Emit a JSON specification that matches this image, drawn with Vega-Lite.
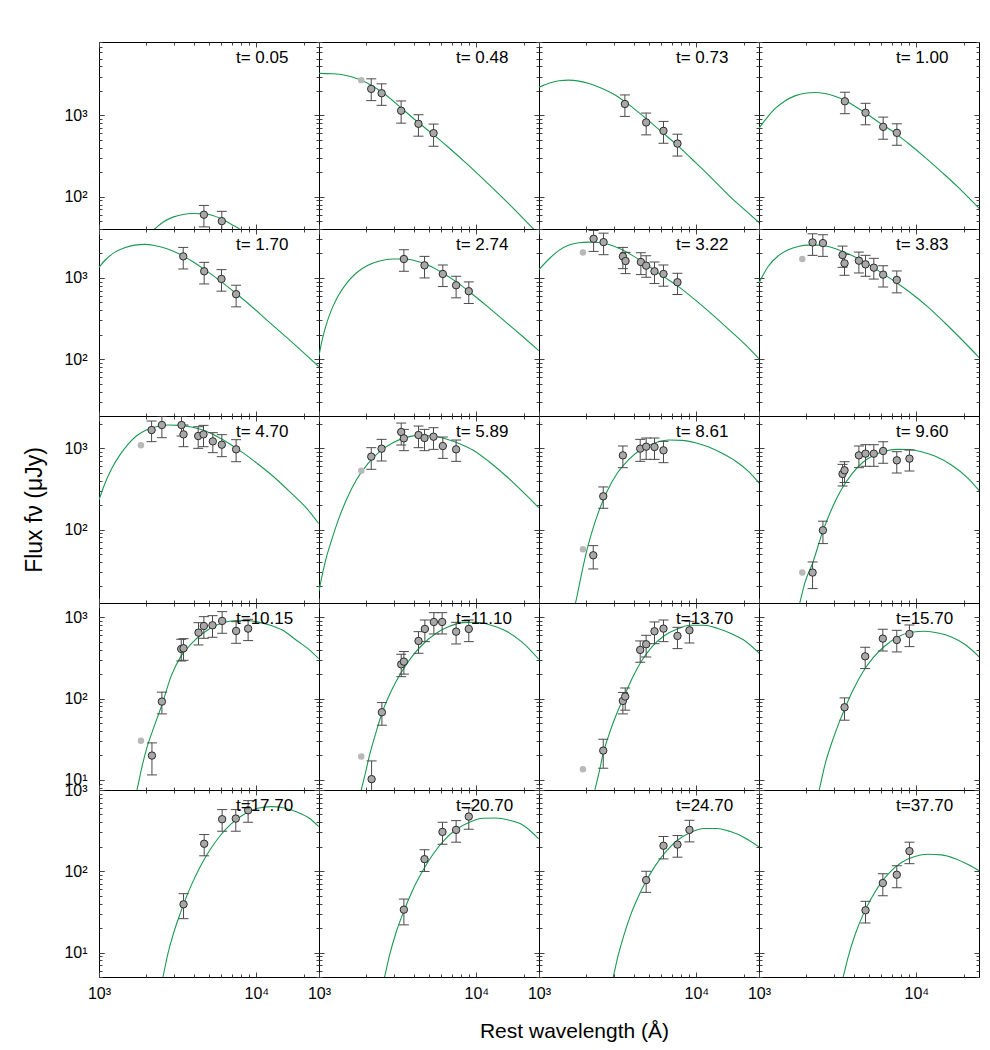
{
"$schema":"https://vega.github.io/schema/vega-lite/v6.json",
"background":"white",
"padding":{"left":23,"top":41,"right":5,"bottom":5},
"datasets":{
"c":[
{"p":1,"w":2095,"f":35.8},{"p":1,"w":2254,"f":40.1},{"p":1,"w":2547,"f":48.5},{"p":1,"w":2951,"f":56},{"p":1,"w":3415,"f":60.4},{"p":1,"w":3948,"f":62.1},{"p":1,"w":4570,"f":61.5},{"p":1,"w":5286,"f":58.7},{"p":1,"w":6118,"f":52.4},{"p":1,"w":6917,"f":45.8},{"p":1,"w":7813,"f":40.1},{"p":1,"w":8395,"f":35.8},
{"p":2,"w":1000,"f":3285},{"p":2,"w":1227,"f":3253},{"p":2,"w":1491,"f":3102},{"p":2,"w":1811,"f":2768},{"p":2,"w":2201,"f":2288},{"p":2,"w":2674,"f":1770},{"p":2,"w":3330,"f":1233},{"p":2,"w":4147,"f":859},{"p":2,"w":5288,"f":587},{"p":2,"w":6747,"f":394},{"p":2,"w":8606,"f":259},{"p":2,"w":10980,"f":167},{"p":2,"w":14007,"f":106},{"p":2,"w":17871,"f":66.4},{"p":2,"w":22800,"f":40.9},{"p":2,"w":25135,"f":33.8},
{"p":3,"w":1000,"f":2224},{"p":3,"w":1157,"f":2493},{"p":3,"w":1340,"f":2665},{"p":3,"w":1550,"f":2716},{"p":3,"w":1794,"f":2640},{"p":3,"w":2077,"f":2470},{"p":3,"w":2523,"f":2141},{"p":3,"w":3065,"f":1770},{"p":3,"w":3725,"f":1356},{"p":3,"w":4752,"f":927},{"p":3,"w":6061,"f":621},{"p":3,"w":7733,"f":413},{"p":3,"w":9865,"f":264},{"p":3,"w":12584,"f":167},{"p":3,"w":16055,"f":104},{"p":3,"w":20480,"f":67.7},{"p":3,"w":25130,"f":47.6},
{"p":4,"w":1000,"f":697},{"p":4,"w":1119,"f":927},{"p":4,"w":1263,"f":1210},{"p":4,"w":1462,"f":1507},{"p":4,"w":1692,"f":1738},{"p":4,"w":1958,"f":1876},{"p":4,"w":2266,"f":1911},{"p":4,"w":2623,"f":1857},{"p":4,"w":3035,"f":1722},{"p":4,"w":3513,"f":1536},{"p":4,"w":4166,"f":1257},{"p":4,"w":4940,"f":1019},{"p":4,"w":6002,"f":781},{"p":4,"w":7294,"f":610},{"p":4,"w":8862,"f":454},{"p":4,"w":11305,"f":307},{"p":4,"w":14422,"f":202},{"p":4,"w":18398,"f":131},{"p":4,"w":25380,"f":69.7},
{"p":5,"w":1000,"f":1351},{"p":5,"w":1113,"f":1709},{"p":5,"w":1257,"f":2062},{"p":5,"w":1455,"f":2352},{"p":5,"w":1684,"f":2536},{"p":5,"w":1949,"f":2584},{"p":5,"w":2255,"f":2512},{"p":5,"w":2674,"f":2308},{"p":5,"w":3250,"f":1968},{"p":5,"w":3948,"f":1585},{"p":5,"w":4797,"f":1229},{"p":5,"w":5973,"f":902},{"p":5,"w":7435,"f":643},{"p":5,"w":9489,"f":433},{"p":5,"w":12104,"f":284},{"p":5,"w":15443,"f":188},{"p":5,"w":19698,"f":123},{"p":5,"w":24890,"f":81.3},
{"p":6,"w":1000,"f":110},{"p":6,"w":1050,"f":176},{"p":6,"w":1113,"f":268},{"p":6,"w":1198,"f":402},{"p":6,"w":1320,"f":596},{"p":6,"w":1491,"f":852},{"p":6,"w":1726,"f":1151},{"p":6,"w":2046,"f":1429},{"p":6,"w":2426,"f":1615},{"p":6,"w":2948,"f":1709},{"p":6,"w":3496,"f":1709},{"p":6,"w":4147,"f":1615},{"p":6,"w":5039,"f":1416},{"p":6,"w":6120,"f":1151},{"p":6,"w":7621,"f":868},{"p":6,"w":9489,"f":625},{"p":6,"w":12104,"f":425},{"p":6,"w":15443,"f":284},{"p":6,"w":19698,"f":190},{"p":6,"w":24890,"f":128},
{"p":7,"w":1000,"f":1265},{"p":7,"w":1157,"f":1709},{"p":7,"w":1340,"f":2182},{"p":7,"w":1550,"f":2536},{"p":7,"w":1794,"f":2708},{"p":7,"w":2077,"f":2759},{"p":7,"w":2403,"f":2734},{"p":7,"w":2781,"f":2584},{"p":7,"w":3379,"f":2223},{"p":7,"w":4107,"f":1791},{"p":7,"w":4989,"f":1390},{"p":7,"w":6061,"f":1068},{"p":7,"w":7733,"f":776},{"p":7,"w":9865,"f":533},{"p":7,"w":12584,"f":356},{"p":7,"w":16055,"f":233},{"p":7,"w":20480,"f":151},{"p":7,"w":25130,"f":100},
{"p":8,"w":1000,"f":868},{"p":8,"w":1146,"f":1390},{"p":8,"w":1327,"f":1877},{"p":8,"w":1535,"f":2223},{"p":8,"w":1776,"f":2442},{"p":8,"w":2056,"f":2536},{"p":8,"w":2380,"f":2536},{"p":8,"w":2754,"f":2442},{"p":8,"w":3187,"f":2223},{"p":8,"w":3873,"f":1895},{"p":8,"w":4706,"f":1555},{"p":8,"w":5717,"f":1229},{"p":8,"w":7294,"f":902},{"p":8,"w":9305,"f":643},{"p":8,"w":11870,"f":437},{"p":8,"w":15140,"f":281},{"p":8,"w":19320,"f":176},{"p":8,"w":25380,"f":102},
{"p":9,"w":1000,"f":232},{"p":9,"w":1086,"f":361},{"p":9,"w":1198,"f":552},{"p":9,"w":1352,"f":820},{"p":9,"w":1528,"f":1120},{"p":9,"w":1726,"f":1418},{"p":9,"w":1997,"f":1680},{"p":9,"w":2311,"f":1847},{"p":9,"w":2741,"f":1936},{"p":9,"w":3250,"f":1918},{"p":9,"w":3854,"f":1829},{"p":9,"w":4570,"f":1680},{"p":9,"w":5554,"f":1418},{"p":9,"w":6747,"f":1141},{"p":9,"w":8199,"f":885},{"p":9,"w":9961,"f":666},{"p":9,"w":12707,"f":457},{"p":9,"w":16214,"f":296},{"p":9,"w":20685,"f":186},{"p":9,"w":24890,"f":119},
{"p":10,"w":1000,"f":17.6},{"p":10,"w":1050,"f":28.2},{"p":10,"w":1113,"f":45.3},{"p":10,"w":1198,"f":72.6},{"p":10,"w":1320,"f":128},{"p":10,"w":1491,"f":232},{"p":10,"w":1726,"f":408},{"p":10,"w":2046,"f":648},{"p":10,"w":2426,"f":910},{"p":10,"w":2948,"f":1174},{"p":10,"w":3582,"f":1365},{"p":10,"w":4352,"f":1445},{"p":10,"w":5288,"f":1418},{"p":10,"w":6427,"f":1303},{"p":10,"w":7809,"f":1141},{"p":10,"w":9489,"f":954},{"p":10,"w":12104,"f":679},{"p":10,"w":15443,"f":457},{"p":10,"w":19698,"f":293},{"p":10,"w":24890,"f":186},
{"p":11,"w":1668,"f":10.5},{"p":11,"w":1709,"f":12.7},{"p":11,"w":1838,"f":25},{"p":11,"w":1997,"f":52.1},{"p":11,"w":2180,"f":96.3},{"p":11,"w":2403,"f":170},{"p":11,"w":2714,"f":299},{"p":11,"w":3141,"f":493},{"p":11,"w":3725,"f":733},{"p":11,"w":4526,"f":991},{"p":11,"w":5500,"f":1174},{"p":11,"w":6682,"f":1266},{"p":11,"w":8121,"f":1254},{"p":11,"w":9865,"f":1174},{"p":11,"w":11990,"f":1038},{"p":11,"w":14567,"f":868},{"p":11,"w":17700,"f":699},{"p":11,"w":21510,"f":517},{"p":11,"w":25130,"f":371},
{"p":12,"w":1776,"f":10.5},{"p":12,"w":1820,"f":12.7},{"p":12,"w":1958,"f":22.3},{"p":12,"w":2190,"f":38.6},{"p":12,"w":2548,"f":96.3},{"p":12,"w":2892,"f":178},{"p":12,"w":3345,"f":313},{"p":12,"w":3873,"f":479},{"p":12,"w":4592,"f":679},{"p":12,"w":5445,"f":836},{"p":12,"w":6458,"f":936},{"p":12,"w":7657,"f":972},{"p":12,"w":9082,"f":963},{"p":12,"w":10768,"f":910},{"p":12,"w":13086,"f":805},{"p":12,"w":16692,"f":624},{"p":12,"w":21294,"f":428},{"p":12,"w":25380,"f":293},
{"p":13,"w":1684,"f":6.24},{"p":13,"w":1742,"f":7.53},{"p":13,"w":1856,"f":13.3},{"p":13,"w":1997,"f":23.4},{"p":13,"w":2201,"f":41.2},{"p":13,"w":2510,"f":83.6},{"p":13,"w":2877,"f":190},{"p":13,"w":3330,"f":335},{"p":13,"w":3854,"f":470},{"p":13,"w":4570,"f":636},{"p":13,"w":5554,"f":797},{"p":13,"w":6747,"f":893},{"p":13,"w":8199,"f":919},{"p":13,"w":9961,"f":885},{"p":13,"w":12104,"f":805},{"p":13,"w":14709,"f":692},{"p":13,"w":17871,"f":526},{"p":13,"w":21716,"f":397},{"p":13,"w":24890,"f":310},
{"p":14,"w":1811,"f":6.24},{"p":14,"w":1856,"f":7.53},{"p":14,"w":1949,"f":11},{"p":14,"w":2097,"f":20.3},{"p":14,"w":2311,"f":39.3},{"p":14,"w":2510,"f":66},{"p":14,"w":2877,"f":124},{"p":14,"w":3330,"f":209},{"p":14,"w":3854,"f":319},{"p":14,"w":4570,"f":466},{"p":14,"w":5554,"f":636},{"p":14,"w":6747,"f":775},{"p":14,"w":8199,"f":860},{"p":14,"w":9961,"f":868},{"p":14,"w":12104,"f":812},{"p":14,"w":15443,"f":679},{"p":14,"w":19698,"f":488},{"p":14,"w":24890,"f":305},
{"p":15,"w":2212,"f":6.24},{"p":15,"w":2266,"f":7.53},{"p":15,"w":2403,"f":12.1},{"p":15,"w":2560,"f":21.3},{"p":15,"w":2781,"f":35.8},{"p":15,"w":3065,"f":60.1},{"p":15,"w":3412,"f":98.1},{"p":15,"w":3911,"f":178},{"p":15,"w":4526,"f":299},{"p":15,"w":5237,"f":436},{"p":15,"w":6213,"f":590},{"p":15,"w":7547,"f":719},{"p":15,"w":9170,"f":797},{"p":15,"w":11140,"f":797},{"p":15,"w":13540,"f":733},{"p":15,"w":16450,"f":636},{"p":15,"w":19990,"f":526},{"p":15,"w":25130,"f":361},
{"p":16,"w":2357,"f":6.24},{"p":16,"w":2415,"f":7.53},{"p":16,"w":2623,"f":15.3},{"p":16,"w":2892,"f":28.2},{"p":16,"w":3187,"f":47.5},{"p":16,"w":3496,"f":73.9},{"p":16,"w":3968,"f":128},{"p":16,"w":4592,"f":215},{"p":16,"w":5314,"f":319},{"p":16,"w":6303,"f":444},{"p":16,"w":7657,"f":578},{"p":16,"w":9305,"f":654},{"p":16,"w":11305,"f":673},{"p":16,"w":13740,"f":642},{"p":16,"w":16692,"f":573},{"p":16,"w":20280,"f":466},{"p":16,"w":25380,"f":319},
{"p":17,"w":2486,"f":4.17},{"p":17,"w":2548,"f":5.03},{"p":17,"w":2741,"f":9.72},{"p":17,"w":2948,"f":16.3},{"p":17,"w":3250,"f":28.7},{"p":17,"w":3445,"f":39.2},{"p":17,"w":3854,"f":67},{"p":17,"w":4352,"f":110},{"p":17,"w":5039,"f":180},{"p":17,"w":5831,"f":268},{"p":17,"w":6914,"f":383},{"p":17,"w":8402,"f":508},{"p":17,"w":10207,"f":596},{"p":17,"w":12402,"f":624},{"p":17,"w":15073,"f":601},{"p":17,"w":18312,"f":532},{"p":17,"w":21716,"f":449},{"p":17,"w":24890,"f":355},
{"p":18,"w":2548,"f":4.17},{"p":18,"w":2610,"f":5.03},{"p":18,"w":2808,"f":9.27},{"p":18,"w":3095,"f":17.9},{"p":18,"w":3462,"f":32.4},{"p":18,"w":3948,"f":59.3},{"p":18,"w":4570,"f":102},{"p":18,"w":5288,"f":161},{"p":18,"w":6273,"f":244},{"p":18,"w":7435,"f":326},{"p":18,"w":9036,"f":401},{"p":18,"w":10980,"f":449},{"p":18,"w":13343,"f":453},{"p":18,"w":16214,"f":424},{"p":18,"w":19698,"f":372},{"p":18,"w":24890,"f":251},
{"p":19,"w":2892,"f":4.17},{"p":19,"w":2963,"f":5.03},{"p":19,"w":3187,"f":9.27},{"p":19,"w":3462,"f":16.3},{"p":19,"w":3815,"f":28.7},{"p":19,"w":4268,"f":48.2},{"p":19,"w":4797,"f":75.7},{"p":19,"w":5500,"f":118},{"p":19,"w":6364,"f":172},{"p":19,"w":7547,"f":239},{"p":19,"w":9170,"f":300},{"p":19,"w":11140,"f":336},{"p":19,"w":13540,"f":336},{"p":19,"w":16450,"f":308},{"p":19,"w":19990,"f":263},{"p":19,"w":25130,"f":198},
{"p":20,"w":3345,"f":4.17},{"p":20,"w":3429,"f":5.03},{"p":20,"w":3688,"f":8.85},{"p":20,"w":4066,"f":16.3},{"p":20,"w":4592,"f":29.5},{"p":20,"w":5186,"f":46.9},{"p":20,"w":6002,"f":73.6},{"p":20,"w":6947,"f":102},{"p":20,"w":8039,"f":128},{"p":20,"w":9767,"f":152},{"p":20,"w":11870,"f":162},{"p":20,"w":14422,"f":159},{"p":20,"w":17528,"f":144},{"p":20,"w":21294,"f":121},{"p":20,"w":25380,"f":100}
],
"d":[
{"p":1,"w":4640,"f":60,"lo":42.5,"hi":78},{"p":1,"w":6030,"f":50,"lo":38,"hi":66},
{"p":2,"w":2147,"f":2120,"lo":1520,"hi":2818},{"p":2,"w":2500,"f":1874,"lo":1330,"hi":2446},{"p":2,"w":3326,"f":1142,"lo":803,"hi":1506},{"p":2,"w":4285,"f":788,"lo":555,"hi":1019},{"p":2,"w":5346,"f":604,"lo":417,"hi":782},
{"p":3,"w":3513,"f":1382,"lo":972,"hi":1786},{"p":3,"w":4797,"f":819,"lo":576,"hi":1069},{"p":3,"w":6180,"f":645,"lo":454,"hi":843},{"p":3,"w":7583,"f":450,"lo":316,"hi":587},
{"p":4,"w":3513,"f":1492,"lo":1049,"hi":1928},{"p":4,"w":4752,"f":1079,"lo":766,"hi":1409},{"p":4,"w":6152,"f":723,"lo":509,"hi":953},{"p":4,"w":7515,"f":610,"lo":429,"hi":788},
{"p":5,"w":3429,"f":1842,"lo":1289,"hi":2374},{"p":5,"w":4660,"f":1207,"lo":844,"hi":1556},{"p":5,"w":6002,"f":972,"lo":687,"hi":1265},{"p":5,"w":7435,"f":631,"lo":441,"hi":813},
{"p":6,"w":3462,"f":1709,"lo":1207,"hi":2224},{"p":6,"w":4683,"f":1429,"lo":1000,"hi":1842},{"p":6,"w":6120,"f":1119,"lo":783,"hi":1443},{"p":6,"w":7435,"f":813,"lo":569,"hi":1048},{"p":6,"w":8950,"f":687,"lo":485,"hi":894},
{"p":7,"w":2223,"f":3031,"lo":2121,"hi":3837},{"p":7,"w":2572,"f":2759,"lo":1931,"hi":3557},{"p":7,"w":3412,"f":1842,"lo":1301,"hi":2374},{"p":7,"w":3547,"f":1615,"lo":1130,"hi":2062},{"p":7,"w":4439,"f":1570,"lo":1099,"hi":2042},{"p":7,"w":4797,"f":1416,"lo":1019,"hi":1875},{"p":7,"w":5419,"f":1207,"lo":853,"hi":1570},{"p":7,"w":6180,"f":1119,"lo":791,"hi":1443},{"p":7,"w":7583,"f":885,"lo":625,"hi":1141},
{"p":8,"w":2190,"f":2734,"lo":1895,"hi":3491},{"p":8,"w":2548,"f":2683,"lo":1842,"hi":3398},{"p":8,"w":3395,"f":1913,"lo":1351,"hi":2466},{"p":8,"w":3496,"f":1512,"lo":1078,"hi":1950},{"p":8,"w":4312,"f":1630,"lo":1151,"hi":2080},{"p":8,"w":4752,"f":1470,"lo":1048,"hi":1897},{"p":8,"w":5365,"f":1338,"lo":968,"hi":1742},{"p":8,"w":6150,"f":1098,"lo":776,"hi":1416},{"p":8,"w":7509,"f":945,"lo":655,"hi":1218},
{"p":9,"w":2159,"f":1680,"lo":1208,"hi":2168},{"p":9,"w":2510,"f":1936,"lo":1352,"hi":2498},{"p":9,"w":3345,"f":1936,"lo":1418,"hi":2498},{"p":9,"w":3445,"f":1486,"lo":1048,"hi":1936},{"p":9,"w":4268,"f":1418,"lo":1000,"hi":1846},{"p":9,"w":4614,"f":1486,"lo":1048,"hi":1918},{"p":9,"w":5288,"f":1219,"lo":885,"hi":1559},{"p":9,"w":6032,"f":1109,"lo":790,"hi":1473},{"p":9,"w":7435,"f":972,"lo":685,"hi":1278},
{"p":10,"w":2148,"f":790,"lo":552,"hi":1019},{"p":10,"w":2498,"f":991,"lo":699,"hi":1290},{"p":10,"w":3330,"f":1588,"lo":1099,"hi":2047},{"p":10,"w":3462,"f":1327,"lo":936,"hi":1712},{"p":10,"w":4289,"f":1459,"lo":1019,"hi":1882},{"p":10,"w":4683,"f":1340,"lo":936,"hi":1712},{"p":10,"w":5340,"f":1391,"lo":972,"hi":1795},{"p":10,"w":6120,"f":1068,"lo":753,"hi":1378},{"p":10,"w":7435,"f":972,"lo":692,"hi":1266},
{"p":11,"w":2212,"f":48.3,"lo":32.8,"hi":63.5},{"p":11,"w":2560,"f":257,"lo":183,"hi":335},{"p":11,"w":3412,"f":820,"lo":578,"hi":1069},{"p":11,"w":4397,"f":991,"lo":692,"hi":1290},{"p":11,"w":4797,"f":1048,"lo":732,"hi":1340},{"p":11,"w":5419,"f":1038,"lo":732,"hi":1340},{"p":11,"w":6180,"f":945,"lo":666,"hi":1219},
{"p":12,"w":2190,"f":29.6,"lo":18.8,"hi":40},{"p":12,"w":2548,"f":98.1,"lo":67.3,"hi":127},{"p":12,"w":3395,"f":484,"lo":344,"hi":635},{"p":12,"w":3496,"f":537,"lo":380,"hi":685},{"p":12,"w":4312,"f":820,"lo":578,"hi":1069},{"p":12,"w":4752,"f":860,"lo":601,"hi":1109},{"p":12,"w":5365,"f":860,"lo":601,"hi":1109},{"p":12,"w":6150,"f":927,"lo":654,"hi":1207},{"p":12,"w":7509,"f":712,"lo":497,"hi":910},{"p":12,"w":9036,"f":747,"lo":526,"hi":954},
{"p":13,"w":2170,"f":19.9,"lo":11.5,"hi":28.5},{"p":13,"w":2510,"f":91.8,"lo":64.8,"hi":120},{"p":13,"w":3330,"f":408,"lo":290,"hi":536},{"p":13,"w":3445,"f":416,"lo":296,"hi":546},{"p":13,"w":4289,"f":648,"lo":457,"hi":859},{"p":13,"w":4638,"f":782,"lo":552,"hi":1019},{"p":13,"w":5263,"f":797,"lo":568,"hi":1048},{"p":13,"w":6061,"f":902,"lo":636,"hi":1174},{"p":13,"w":7435,"f":679,"lo":479,"hi":885},{"p":13,"w":8862,"f":726,"lo":517,"hi":945},
{"p":14,"w":2159,"f":10.2,"lo":6.2,"hi":17.1},{"p":14,"w":2510,"f":67.9,"lo":47,"hi":89.3},{"p":14,"w":3330,"f":264,"lo":186,"hi":351},{"p":14,"w":3462,"f":285,"lo":200,"hi":379},{"p":14,"w":4289,"f":512,"lo":361,"hi":666},{"p":14,"w":4707,"f":719,"lo":502,"hi":927},{"p":14,"w":5368,"f":876,"lo":624,"hi":1141},{"p":14,"w":6061,"f":876,"lo":624,"hi":1141},{"p":14,"w":7435,"f":666,"lo":470,"hi":868},{"p":14,"w":8950,"f":719,"lo":502,"hi":927},
{"p":15,"w":2560,"f":22.9,"lo":13.9,"hi":31.6},{"p":15,"w":3412,"f":93.6,"lo":64.8,"hi":119},{"p":15,"w":3530,"f":106,"lo":72,"hi":135},{"p":15,"w":4397,"f":397,"lo":280,"hi":512},{"p":15,"w":4797,"f":466,"lo":325,"hi":601},{"p":15,"w":5419,"f":673,"lo":474,"hi":877},{"p":15,"w":6180,"f":726,"lo":502,"hi":927},{"p":15,"w":7583,"f":590,"lo":412,"hi":753},{"p":15,"w":9036,"f":692,"lo":483,"hi":893},
{"p":16,"w":3496,"f":78.2,"lo":54.2,"hi":102},{"p":16,"w":4729,"f":331,"lo":234,"hi":428},{"p":16,"w":6120,"f":547,"lo":385,"hi":712},{"p":16,"w":7509,"f":526,"lo":375,"hi":692},{"p":16,"w":9036,"f":624,"lo":436,"hi":805},
{"p":17,"w":3445,"f":39.2,"lo":26.1,"hi":53},{"p":17,"w":4660,"f":218,"lo":155,"hi":283},{"p":17,"w":6061,"f":437,"lo":311,"hi":574},{"p":17,"w":7400,"f":445,"lo":311,"hi":574},{"p":17,"w":8862,"f":563,"lo":401,"hi":740},
{"p":18,"w":3462,"f":33.7,"lo":21.9,"hi":45.5},{"p":18,"w":4683,"f":141,"lo":99.5,"hi":184},{"p":18,"w":6091,"f":305,"lo":215,"hi":401},{"p":18,"w":7435,"f":323,"lo":228,"hi":420},{"p":18,"w":8950,"f":471,"lo":329,"hi":601},
{"p":19,"w":4797,"f":77.9,"lo":55,"hi":100},{"p":19,"w":6180,"f":206,"lo":142,"hi":268},{"p":19,"w":7583,"f":213,"lo":149,"hi":275},{"p":19,"w":9036,"f":323,"lo":230,"hi":424},
{"p":20,"w":4752,"f":33.1,"lo":23.1,"hi":42.7},{"p":20,"w":6120,"f":71.6,"lo":50.1,"hi":93.2},{"p":20,"w":7509,"f":90.6,"lo":62.7,"hi":117},{"p":20,"w":9036,"f":177,"lo":124,"hi":228}
],
"g":[
{"p":2,"w":1856,"f":2716},{"p":7,"w":1902,"f":2062},{"p":8,"w":1884,"f":1709},{"p":9,"w":1847,"f":1089},{"p":10,"w":1856,"f":531},{"p":11,"w":1902,"f":57.3},{"p":12,"w":1884,"f":29.6},{"p":13,"w":1847,"f":30.2},{"p":14,"w":1856,"f":19.4},{"p":15,"w":1902,"f":13.5}
]
},
"columns":4,
"spacing":0,
"bounds":"flush",
"concat":[
{"title":"t= 0.05","encoding":{"x":{"field":"w","type":"quantitative","scale":{"type":"log","domain":[1000,25000]},"axis":null},"y":{"field":"f","type":"quantitative","scale":{"type":"log","domain":[40,8000]},"axis":null}},"layer":[
{"data":{"name":"c"},"transform":[{"filter":"datum.p==1"}],"mark":{"type":"line","clip":true,"interpolate":"monotone","color":"#1a9a50","strokeWidth":1.1},"encoding":{"x":{"field":"w","type":"quantitative","scale":{"type":"log","domain":[1000,25000]},"axis":{"orient":"bottom","title":null}},"y":{"field":"f","type":"quantitative","scale":{"type":"log","domain":[40,8000]},"axis":{"orient":"left","title":null,"values":[1,10,100,1000,10000],"labels":true,"labelExpr":"'10'+['⁰','¹','²','³','⁴','⁵'][round(log(datum.value)/LN10)]"}}}},
{"data":{"name":"d"},"transform":[{"filter":"datum.p==1"}],"mark":{"type":"rule","clip":true,"color":"#4a4a4a"},"encoding":{"x":{"field":"w","type":"quantitative","scale":{"type":"log","domain":[1000,25000]},"axis":{"orient":"top","title":null}},"y":{"field":"lo","type":"quantitative","scale":{"type":"log","domain":[40,8000]},"axis":{"orient":"right","title":null}},"y2":{"field":"hi"}}},
{"data":{"name":"d"},"transform":[{"filter":"datum.p==1"},{"fold":["lo","hi"],"as":["k","v"]}],"mark":{"type":"tick","clip":true,"color":"#4a4a4a","orient":"horizontal","size":10,"thickness":1},"encoding":{"y":{"field":"v","type":"quantitative","scale":{"type":"log","domain":[40,8000]},"axis":{"orient":"left","title":null}}}},
{"data":{"name":"g"},"transform":[{"filter":"datum.p==1"}],"mark":{"type":"circle","clip":true,"color":"#b8b8b8","size":42}},
{"data":{"name":"d"},"transform":[{"filter":"datum.p==1"}],"mark":{"type":"circle","clip":true,"color":"#a8a8a8","stroke":"#2a2a2a","strokeWidth":1,"size":55}}
]},
{"title":"t= 0.48","encoding":{"x":{"field":"w","type":"quantitative","scale":{"type":"log","domain":[1000,25000]},"axis":null},"y":{"field":"f","type":"quantitative","scale":{"type":"log","domain":[40,8000]},"axis":null}},"layer":[
{"data":{"name":"c"},"transform":[{"filter":"datum.p==2"}],"mark":{"type":"line","clip":true,"interpolate":"monotone","color":"#1a9a50","strokeWidth":1.1},"encoding":{"x":{"field":"w","type":"quantitative","scale":{"type":"log","domain":[1000,25000]},"axis":{"orient":"bottom","title":null}},"y":{"field":"f","type":"quantitative","scale":{"type":"log","domain":[40,8000]},"axis":{"orient":"left","title":null}}}},
{"data":{"name":"d"},"transform":[{"filter":"datum.p==2"}],"mark":{"type":"rule","clip":true,"color":"#4a4a4a"},"encoding":{"x":{"field":"w","type":"quantitative","scale":{"type":"log","domain":[1000,25000]},"axis":{"orient":"top","title":null}},"y":{"field":"lo","type":"quantitative","scale":{"type":"log","domain":[40,8000]},"axis":{"orient":"right","title":null}},"y2":{"field":"hi"}}},
{"data":{"name":"d"},"transform":[{"filter":"datum.p==2"},{"fold":["lo","hi"],"as":["k","v"]}],"mark":{"type":"tick","clip":true,"color":"#4a4a4a","orient":"horizontal","size":10,"thickness":1},"encoding":{"y":{"field":"v","type":"quantitative","scale":{"type":"log","domain":[40,8000]},"axis":null}}},
{"data":{"name":"g"},"transform":[{"filter":"datum.p==2"}],"mark":{"type":"circle","clip":true,"color":"#b8b8b8","size":42}},
{"data":{"name":"d"},"transform":[{"filter":"datum.p==2"}],"mark":{"type":"circle","clip":true,"color":"#a8a8a8","stroke":"#2a2a2a","strokeWidth":1,"size":55}}
]},
{"title":"t= 0.73","encoding":{"x":{"field":"w","type":"quantitative","scale":{"type":"log","domain":[1000,25000]},"axis":null},"y":{"field":"f","type":"quantitative","scale":{"type":"log","domain":[40,8000]},"axis":null}},"layer":[
{"data":{"name":"c"},"transform":[{"filter":"datum.p==3"}],"mark":{"type":"line","clip":true,"interpolate":"monotone","color":"#1a9a50","strokeWidth":1.1},"encoding":{"x":{"field":"w","type":"quantitative","scale":{"type":"log","domain":[1000,25000]},"axis":{"orient":"bottom","title":null}},"y":{"field":"f","type":"quantitative","scale":{"type":"log","domain":[40,8000]},"axis":{"orient":"left","title":null}}}},
{"data":{"name":"d"},"transform":[{"filter":"datum.p==3"}],"mark":{"type":"rule","clip":true,"color":"#4a4a4a"},"encoding":{"x":{"field":"w","type":"quantitative","scale":{"type":"log","domain":[1000,25000]},"axis":{"orient":"top","title":null}},"y":{"field":"lo","type":"quantitative","scale":{"type":"log","domain":[40,8000]},"axis":{"orient":"right","title":null}},"y2":{"field":"hi"}}},
{"data":{"name":"d"},"transform":[{"filter":"datum.p==3"},{"fold":["lo","hi"],"as":["k","v"]}],"mark":{"type":"tick","clip":true,"color":"#4a4a4a","orient":"horizontal","size":10,"thickness":1},"encoding":{"y":{"field":"v","type":"quantitative","scale":{"type":"log","domain":[40,8000]},"axis":null}}},
{"data":{"name":"g"},"transform":[{"filter":"datum.p==3"}],"mark":{"type":"circle","clip":true,"color":"#b8b8b8","size":42}},
{"data":{"name":"d"},"transform":[{"filter":"datum.p==3"}],"mark":{"type":"circle","clip":true,"color":"#a8a8a8","stroke":"#2a2a2a","strokeWidth":1,"size":55}}
]},
{"title":"t= 1.00","encoding":{"x":{"field":"w","type":"quantitative","scale":{"type":"log","domain":[1000,25000]},"axis":null},"y":{"field":"f","type":"quantitative","scale":{"type":"log","domain":[40,8000]},"axis":null}},"layer":[
{"data":{"name":"c"},"transform":[{"filter":"datum.p==4"}],"mark":{"type":"line","clip":true,"interpolate":"monotone","color":"#1a9a50","strokeWidth":1.1},"encoding":{"x":{"field":"w","type":"quantitative","scale":{"type":"log","domain":[1000,25000]},"axis":{"orient":"bottom","title":null}},"y":{"field":"f","type":"quantitative","scale":{"type":"log","domain":[40,8000]},"axis":{"orient":"left","title":null}}}},
{"data":{"name":"d"},"transform":[{"filter":"datum.p==4"}],"mark":{"type":"rule","clip":true,"color":"#4a4a4a"},"encoding":{"x":{"field":"w","type":"quantitative","scale":{"type":"log","domain":[1000,25000]},"axis":{"orient":"top","title":null}},"y":{"field":"lo","type":"quantitative","scale":{"type":"log","domain":[40,8000]},"axis":{"orient":"right","title":null}},"y2":{"field":"hi"}}},
{"data":{"name":"d"},"transform":[{"filter":"datum.p==4"},{"fold":["lo","hi"],"as":["k","v"]}],"mark":{"type":"tick","clip":true,"color":"#4a4a4a","orient":"horizontal","size":10,"thickness":1},"encoding":{"y":{"field":"v","type":"quantitative","scale":{"type":"log","domain":[40,8000]},"axis":null}}},
{"data":{"name":"g"},"transform":[{"filter":"datum.p==4"}],"mark":{"type":"circle","clip":true,"color":"#b8b8b8","size":42}},
{"data":{"name":"d"},"transform":[{"filter":"datum.p==4"}],"mark":{"type":"circle","clip":true,"color":"#a8a8a8","stroke":"#2a2a2a","strokeWidth":1,"size":55}}
]},
{"title":"t= 1.70","encoding":{"x":{"field":"w","type":"quantitative","scale":{"type":"log","domain":[1000,25000]},"axis":null},"y":{"field":"f","type":"quantitative","scale":{"type":"log","domain":[20,4000]},"axis":null}},"layer":[
{"data":{"name":"c"},"transform":[{"filter":"datum.p==5"}],"mark":{"type":"line","clip":true,"interpolate":"monotone","color":"#1a9a50","strokeWidth":1.1},"encoding":{"x":{"field":"w","type":"quantitative","scale":{"type":"log","domain":[1000,25000]},"axis":{"orient":"bottom","title":null}},"y":{"field":"f","type":"quantitative","scale":{"type":"log","domain":[20,4000]},"axis":{"orient":"left","title":null,"values":[1,10,100,1000,10000],"labels":true,"labelExpr":"'10'+['⁰','¹','²','³','⁴','⁵'][round(log(datum.value)/LN10)]"}}}},
{"data":{"name":"d"},"transform":[{"filter":"datum.p==5"}],"mark":{"type":"rule","clip":true,"color":"#4a4a4a"},"encoding":{"x":{"field":"w","type":"quantitative","scale":{"type":"log","domain":[1000,25000]},"axis":{"orient":"top","title":null}},"y":{"field":"lo","type":"quantitative","scale":{"type":"log","domain":[20,4000]},"axis":{"orient":"right","title":null}},"y2":{"field":"hi"}}},
{"data":{"name":"d"},"transform":[{"filter":"datum.p==5"},{"fold":["lo","hi"],"as":["k","v"]}],"mark":{"type":"tick","clip":true,"color":"#4a4a4a","orient":"horizontal","size":10,"thickness":1},"encoding":{"y":{"field":"v","type":"quantitative","scale":{"type":"log","domain":[20,4000]},"axis":{"orient":"left","title":null}}}},
{"data":{"name":"g"},"transform":[{"filter":"datum.p==5"}],"mark":{"type":"circle","clip":true,"color":"#b8b8b8","size":42}},
{"data":{"name":"d"},"transform":[{"filter":"datum.p==5"}],"mark":{"type":"circle","clip":true,"color":"#a8a8a8","stroke":"#2a2a2a","strokeWidth":1,"size":55}}
]},
{"title":"t= 2.74","encoding":{"x":{"field":"w","type":"quantitative","scale":{"type":"log","domain":[1000,25000]},"axis":null},"y":{"field":"f","type":"quantitative","scale":{"type":"log","domain":[20,4000]},"axis":null}},"layer":[
{"data":{"name":"c"},"transform":[{"filter":"datum.p==6"}],"mark":{"type":"line","clip":true,"interpolate":"monotone","color":"#1a9a50","strokeWidth":1.1},"encoding":{"x":{"field":"w","type":"quantitative","scale":{"type":"log","domain":[1000,25000]},"axis":{"orient":"bottom","title":null}},"y":{"field":"f","type":"quantitative","scale":{"type":"log","domain":[20,4000]},"axis":{"orient":"left","title":null}}}},
{"data":{"name":"d"},"transform":[{"filter":"datum.p==6"}],"mark":{"type":"rule","clip":true,"color":"#4a4a4a"},"encoding":{"x":{"field":"w","type":"quantitative","scale":{"type":"log","domain":[1000,25000]},"axis":{"orient":"top","title":null}},"y":{"field":"lo","type":"quantitative","scale":{"type":"log","domain":[20,4000]},"axis":{"orient":"right","title":null}},"y2":{"field":"hi"}}},
{"data":{"name":"d"},"transform":[{"filter":"datum.p==6"},{"fold":["lo","hi"],"as":["k","v"]}],"mark":{"type":"tick","clip":true,"color":"#4a4a4a","orient":"horizontal","size":10,"thickness":1},"encoding":{"y":{"field":"v","type":"quantitative","scale":{"type":"log","domain":[20,4000]},"axis":null}}},
{"data":{"name":"g"},"transform":[{"filter":"datum.p==6"}],"mark":{"type":"circle","clip":true,"color":"#b8b8b8","size":42}},
{"data":{"name":"d"},"transform":[{"filter":"datum.p==6"}],"mark":{"type":"circle","clip":true,"color":"#a8a8a8","stroke":"#2a2a2a","strokeWidth":1,"size":55}}
]},
{"title":"t= 3.22","encoding":{"x":{"field":"w","type":"quantitative","scale":{"type":"log","domain":[1000,25000]},"axis":null},"y":{"field":"f","type":"quantitative","scale":{"type":"log","domain":[20,4000]},"axis":null}},"layer":[
{"data":{"name":"c"},"transform":[{"filter":"datum.p==7"}],"mark":{"type":"line","clip":true,"interpolate":"monotone","color":"#1a9a50","strokeWidth":1.1},"encoding":{"x":{"field":"w","type":"quantitative","scale":{"type":"log","domain":[1000,25000]},"axis":{"orient":"bottom","title":null}},"y":{"field":"f","type":"quantitative","scale":{"type":"log","domain":[20,4000]},"axis":{"orient":"left","title":null}}}},
{"data":{"name":"d"},"transform":[{"filter":"datum.p==7"}],"mark":{"type":"rule","clip":true,"color":"#4a4a4a"},"encoding":{"x":{"field":"w","type":"quantitative","scale":{"type":"log","domain":[1000,25000]},"axis":{"orient":"top","title":null}},"y":{"field":"lo","type":"quantitative","scale":{"type":"log","domain":[20,4000]},"axis":{"orient":"right","title":null}},"y2":{"field":"hi"}}},
{"data":{"name":"d"},"transform":[{"filter":"datum.p==7"},{"fold":["lo","hi"],"as":["k","v"]}],"mark":{"type":"tick","clip":true,"color":"#4a4a4a","orient":"horizontal","size":10,"thickness":1},"encoding":{"y":{"field":"v","type":"quantitative","scale":{"type":"log","domain":[20,4000]},"axis":null}}},
{"data":{"name":"g"},"transform":[{"filter":"datum.p==7"}],"mark":{"type":"circle","clip":true,"color":"#b8b8b8","size":42}},
{"data":{"name":"d"},"transform":[{"filter":"datum.p==7"}],"mark":{"type":"circle","clip":true,"color":"#a8a8a8","stroke":"#2a2a2a","strokeWidth":1,"size":55}}
]},
{"title":"t= 3.83","encoding":{"x":{"field":"w","type":"quantitative","scale":{"type":"log","domain":[1000,25000]},"axis":null},"y":{"field":"f","type":"quantitative","scale":{"type":"log","domain":[20,4000]},"axis":null}},"layer":[
{"data":{"name":"c"},"transform":[{"filter":"datum.p==8"}],"mark":{"type":"line","clip":true,"interpolate":"monotone","color":"#1a9a50","strokeWidth":1.1},"encoding":{"x":{"field":"w","type":"quantitative","scale":{"type":"log","domain":[1000,25000]},"axis":{"orient":"bottom","title":null}},"y":{"field":"f","type":"quantitative","scale":{"type":"log","domain":[20,4000]},"axis":{"orient":"left","title":null}}}},
{"data":{"name":"d"},"transform":[{"filter":"datum.p==8"}],"mark":{"type":"rule","clip":true,"color":"#4a4a4a"},"encoding":{"x":{"field":"w","type":"quantitative","scale":{"type":"log","domain":[1000,25000]},"axis":{"orient":"top","title":null}},"y":{"field":"lo","type":"quantitative","scale":{"type":"log","domain":[20,4000]},"axis":{"orient":"right","title":null}},"y2":{"field":"hi"}}},
{"data":{"name":"d"},"transform":[{"filter":"datum.p==8"},{"fold":["lo","hi"],"as":["k","v"]}],"mark":{"type":"tick","clip":true,"color":"#4a4a4a","orient":"horizontal","size":10,"thickness":1},"encoding":{"y":{"field":"v","type":"quantitative","scale":{"type":"log","domain":[20,4000]},"axis":null}}},
{"data":{"name":"g"},"transform":[{"filter":"datum.p==8"}],"mark":{"type":"circle","clip":true,"color":"#b8b8b8","size":42}},
{"data":{"name":"d"},"transform":[{"filter":"datum.p==8"}],"mark":{"type":"circle","clip":true,"color":"#a8a8a8","stroke":"#2a2a2a","strokeWidth":1,"size":55}}
]},
{"title":"t= 4.70","encoding":{"x":{"field":"w","type":"quantitative","scale":{"type":"log","domain":[1000,25000]},"axis":null},"y":{"field":"f","type":"quantitative","scale":{"type":"log","domain":[12.5,2500]},"axis":null}},"layer":[
{"data":{"name":"c"},"transform":[{"filter":"datum.p==9"}],"mark":{"type":"line","clip":true,"interpolate":"monotone","color":"#1a9a50","strokeWidth":1.1},"encoding":{"x":{"field":"w","type":"quantitative","scale":{"type":"log","domain":[1000,25000]},"axis":{"orient":"bottom","title":null}},"y":{"field":"f","type":"quantitative","scale":{"type":"log","domain":[12.5,2500]},"axis":{"orient":"left","title":"Flux fν (μJy)","titlePadding":17,"titleFontSize":23,"values":[1,10,100,1000,10000],"labels":true,"labelExpr":"'10'+['⁰','¹','²','³','⁴','⁵'][round(log(datum.value)/LN10)]"}}}},
{"data":{"name":"d"},"transform":[{"filter":"datum.p==9"}],"mark":{"type":"rule","clip":true,"color":"#4a4a4a"},"encoding":{"x":{"field":"w","type":"quantitative","scale":{"type":"log","domain":[1000,25000]},"axis":{"orient":"top","title":null}},"y":{"field":"lo","type":"quantitative","scale":{"type":"log","domain":[12.5,2500]},"axis":{"orient":"right","title":null}},"y2":{"field":"hi"}}},
{"data":{"name":"d"},"transform":[{"filter":"datum.p==9"},{"fold":["lo","hi"],"as":["k","v"]}],"mark":{"type":"tick","clip":true,"color":"#4a4a4a","orient":"horizontal","size":10,"thickness":1},"encoding":{"y":{"field":"v","type":"quantitative","scale":{"type":"log","domain":[12.5,2500]},"axis":{"orient":"left","title":null}}}},
{"data":{"name":"g"},"transform":[{"filter":"datum.p==9"}],"mark":{"type":"circle","clip":true,"color":"#b8b8b8","size":42}},
{"data":{"name":"d"},"transform":[{"filter":"datum.p==9"}],"mark":{"type":"circle","clip":true,"color":"#a8a8a8","stroke":"#2a2a2a","strokeWidth":1,"size":55}}
]},
{"title":"t= 5.89","encoding":{"x":{"field":"w","type":"quantitative","scale":{"type":"log","domain":[1000,25000]},"axis":null},"y":{"field":"f","type":"quantitative","scale":{"type":"log","domain":[12.5,2500]},"axis":null}},"layer":[
{"data":{"name":"c"},"transform":[{"filter":"datum.p==10"}],"mark":{"type":"line","clip":true,"interpolate":"monotone","color":"#1a9a50","strokeWidth":1.1},"encoding":{"x":{"field":"w","type":"quantitative","scale":{"type":"log","domain":[1000,25000]},"axis":{"orient":"bottom","title":null}},"y":{"field":"f","type":"quantitative","scale":{"type":"log","domain":[12.5,2500]},"axis":{"orient":"left","title":null}}}},
{"data":{"name":"d"},"transform":[{"filter":"datum.p==10"}],"mark":{"type":"rule","clip":true,"color":"#4a4a4a"},"encoding":{"x":{"field":"w","type":"quantitative","scale":{"type":"log","domain":[1000,25000]},"axis":{"orient":"top","title":null}},"y":{"field":"lo","type":"quantitative","scale":{"type":"log","domain":[12.5,2500]},"axis":{"orient":"right","title":null}},"y2":{"field":"hi"}}},
{"data":{"name":"d"},"transform":[{"filter":"datum.p==10"},{"fold":["lo","hi"],"as":["k","v"]}],"mark":{"type":"tick","clip":true,"color":"#4a4a4a","orient":"horizontal","size":10,"thickness":1},"encoding":{"y":{"field":"v","type":"quantitative","scale":{"type":"log","domain":[12.5,2500]},"axis":null}}},
{"data":{"name":"g"},"transform":[{"filter":"datum.p==10"}],"mark":{"type":"circle","clip":true,"color":"#b8b8b8","size":42}},
{"data":{"name":"d"},"transform":[{"filter":"datum.p==10"}],"mark":{"type":"circle","clip":true,"color":"#a8a8a8","stroke":"#2a2a2a","strokeWidth":1,"size":55}}
]},
{"title":"t= 8.61","encoding":{"x":{"field":"w","type":"quantitative","scale":{"type":"log","domain":[1000,25000]},"axis":null},"y":{"field":"f","type":"quantitative","scale":{"type":"log","domain":[12.5,2500]},"axis":null}},"layer":[
{"data":{"name":"c"},"transform":[{"filter":"datum.p==11"}],"mark":{"type":"line","clip":true,"interpolate":"monotone","color":"#1a9a50","strokeWidth":1.1},"encoding":{"x":{"field":"w","type":"quantitative","scale":{"type":"log","domain":[1000,25000]},"axis":{"orient":"bottom","title":null}},"y":{"field":"f","type":"quantitative","scale":{"type":"log","domain":[12.5,2500]},"axis":{"orient":"left","title":null}}}},
{"data":{"name":"d"},"transform":[{"filter":"datum.p==11"}],"mark":{"type":"rule","clip":true,"color":"#4a4a4a"},"encoding":{"x":{"field":"w","type":"quantitative","scale":{"type":"log","domain":[1000,25000]},"axis":{"orient":"top","title":null}},"y":{"field":"lo","type":"quantitative","scale":{"type":"log","domain":[12.5,2500]},"axis":{"orient":"right","title":null}},"y2":{"field":"hi"}}},
{"data":{"name":"d"},"transform":[{"filter":"datum.p==11"},{"fold":["lo","hi"],"as":["k","v"]}],"mark":{"type":"tick","clip":true,"color":"#4a4a4a","orient":"horizontal","size":10,"thickness":1},"encoding":{"y":{"field":"v","type":"quantitative","scale":{"type":"log","domain":[12.5,2500]},"axis":null}}},
{"data":{"name":"g"},"transform":[{"filter":"datum.p==11"}],"mark":{"type":"circle","clip":true,"color":"#b8b8b8","size":42}},
{"data":{"name":"d"},"transform":[{"filter":"datum.p==11"}],"mark":{"type":"circle","clip":true,"color":"#a8a8a8","stroke":"#2a2a2a","strokeWidth":1,"size":55}}
]},
{"title":"t= 9.60","encoding":{"x":{"field":"w","type":"quantitative","scale":{"type":"log","domain":[1000,25000]},"axis":null},"y":{"field":"f","type":"quantitative","scale":{"type":"log","domain":[12.5,2500]},"axis":null}},"layer":[
{"data":{"name":"c"},"transform":[{"filter":"datum.p==12"}],"mark":{"type":"line","clip":true,"interpolate":"monotone","color":"#1a9a50","strokeWidth":1.1},"encoding":{"x":{"field":"w","type":"quantitative","scale":{"type":"log","domain":[1000,25000]},"axis":{"orient":"bottom","title":null}},"y":{"field":"f","type":"quantitative","scale":{"type":"log","domain":[12.5,2500]},"axis":{"orient":"left","title":null}}}},
{"data":{"name":"d"},"transform":[{"filter":"datum.p==12"}],"mark":{"type":"rule","clip":true,"color":"#4a4a4a"},"encoding":{"x":{"field":"w","type":"quantitative","scale":{"type":"log","domain":[1000,25000]},"axis":{"orient":"top","title":null}},"y":{"field":"lo","type":"quantitative","scale":{"type":"log","domain":[12.5,2500]},"axis":{"orient":"right","title":null}},"y2":{"field":"hi"}}},
{"data":{"name":"d"},"transform":[{"filter":"datum.p==12"},{"fold":["lo","hi"],"as":["k","v"]}],"mark":{"type":"tick","clip":true,"color":"#4a4a4a","orient":"horizontal","size":10,"thickness":1},"encoding":{"y":{"field":"v","type":"quantitative","scale":{"type":"log","domain":[12.5,2500]},"axis":null}}},
{"data":{"name":"g"},"transform":[{"filter":"datum.p==12"}],"mark":{"type":"circle","clip":true,"color":"#b8b8b8","size":42}},
{"data":{"name":"d"},"transform":[{"filter":"datum.p==12"}],"mark":{"type":"circle","clip":true,"color":"#a8a8a8","stroke":"#2a2a2a","strokeWidth":1,"size":55}}
]},
{"title":"t=10.15","encoding":{"x":{"field":"w","type":"quantitative","scale":{"type":"log","domain":[1000,25000]},"axis":null},"y":{"field":"f","type":"quantitative","scale":{"type":"log","domain":[7.5,1500]},"axis":null}},"layer":[
{"data":{"name":"c"},"transform":[{"filter":"datum.p==13"}],"mark":{"type":"line","clip":true,"interpolate":"monotone","color":"#1a9a50","strokeWidth":1.1},"encoding":{"x":{"field":"w","type":"quantitative","scale":{"type":"log","domain":[1000,25000]},"axis":{"orient":"bottom","title":null}},"y":{"field":"f","type":"quantitative","scale":{"type":"log","domain":[7.5,1500]},"axis":{"orient":"left","title":null,"values":[1,10,100,1000,10000],"labels":true,"labelExpr":"'10'+['⁰','¹','²','³','⁴','⁵'][round(log(datum.value)/LN10)]"}}}},
{"data":{"name":"d"},"transform":[{"filter":"datum.p==13"}],"mark":{"type":"rule","clip":true,"color":"#4a4a4a"},"encoding":{"x":{"field":"w","type":"quantitative","scale":{"type":"log","domain":[1000,25000]},"axis":{"orient":"top","title":null}},"y":{"field":"lo","type":"quantitative","scale":{"type":"log","domain":[7.5,1500]},"axis":{"orient":"right","title":null}},"y2":{"field":"hi"}}},
{"data":{"name":"d"},"transform":[{"filter":"datum.p==13"},{"fold":["lo","hi"],"as":["k","v"]}],"mark":{"type":"tick","clip":true,"color":"#4a4a4a","orient":"horizontal","size":10,"thickness":1},"encoding":{"y":{"field":"v","type":"quantitative","scale":{"type":"log","domain":[7.5,1500]},"axis":{"orient":"left","title":null}}}},
{"data":{"name":"g"},"transform":[{"filter":"datum.p==13"}],"mark":{"type":"circle","clip":true,"color":"#b8b8b8","size":42}},
{"data":{"name":"d"},"transform":[{"filter":"datum.p==13"}],"mark":{"type":"circle","clip":true,"color":"#a8a8a8","stroke":"#2a2a2a","strokeWidth":1,"size":55}}
]},
{"title":"t=11.10","encoding":{"x":{"field":"w","type":"quantitative","scale":{"type":"log","domain":[1000,25000]},"axis":null},"y":{"field":"f","type":"quantitative","scale":{"type":"log","domain":[7.5,1500]},"axis":null}},"layer":[
{"data":{"name":"c"},"transform":[{"filter":"datum.p==14"}],"mark":{"type":"line","clip":true,"interpolate":"monotone","color":"#1a9a50","strokeWidth":1.1},"encoding":{"x":{"field":"w","type":"quantitative","scale":{"type":"log","domain":[1000,25000]},"axis":{"orient":"bottom","title":null}},"y":{"field":"f","type":"quantitative","scale":{"type":"log","domain":[7.5,1500]},"axis":{"orient":"left","title":null}}}},
{"data":{"name":"d"},"transform":[{"filter":"datum.p==14"}],"mark":{"type":"rule","clip":true,"color":"#4a4a4a"},"encoding":{"x":{"field":"w","type":"quantitative","scale":{"type":"log","domain":[1000,25000]},"axis":{"orient":"top","title":null}},"y":{"field":"lo","type":"quantitative","scale":{"type":"log","domain":[7.5,1500]},"axis":{"orient":"right","title":null}},"y2":{"field":"hi"}}},
{"data":{"name":"d"},"transform":[{"filter":"datum.p==14"},{"fold":["lo","hi"],"as":["k","v"]}],"mark":{"type":"tick","clip":true,"color":"#4a4a4a","orient":"horizontal","size":10,"thickness":1},"encoding":{"y":{"field":"v","type":"quantitative","scale":{"type":"log","domain":[7.5,1500]},"axis":null}}},
{"data":{"name":"g"},"transform":[{"filter":"datum.p==14"}],"mark":{"type":"circle","clip":true,"color":"#b8b8b8","size":42}},
{"data":{"name":"d"},"transform":[{"filter":"datum.p==14"}],"mark":{"type":"circle","clip":true,"color":"#a8a8a8","stroke":"#2a2a2a","strokeWidth":1,"size":55}}
]},
{"title":"t=13.70","encoding":{"x":{"field":"w","type":"quantitative","scale":{"type":"log","domain":[1000,25000]},"axis":null},"y":{"field":"f","type":"quantitative","scale":{"type":"log","domain":[7.5,1500]},"axis":null}},"layer":[
{"data":{"name":"c"},"transform":[{"filter":"datum.p==15"}],"mark":{"type":"line","clip":true,"interpolate":"monotone","color":"#1a9a50","strokeWidth":1.1},"encoding":{"x":{"field":"w","type":"quantitative","scale":{"type":"log","domain":[1000,25000]},"axis":{"orient":"bottom","title":null}},"y":{"field":"f","type":"quantitative","scale":{"type":"log","domain":[7.5,1500]},"axis":{"orient":"left","title":null}}}},
{"data":{"name":"d"},"transform":[{"filter":"datum.p==15"}],"mark":{"type":"rule","clip":true,"color":"#4a4a4a"},"encoding":{"x":{"field":"w","type":"quantitative","scale":{"type":"log","domain":[1000,25000]},"axis":{"orient":"top","title":null}},"y":{"field":"lo","type":"quantitative","scale":{"type":"log","domain":[7.5,1500]},"axis":{"orient":"right","title":null}},"y2":{"field":"hi"}}},
{"data":{"name":"d"},"transform":[{"filter":"datum.p==15"},{"fold":["lo","hi"],"as":["k","v"]}],"mark":{"type":"tick","clip":true,"color":"#4a4a4a","orient":"horizontal","size":10,"thickness":1},"encoding":{"y":{"field":"v","type":"quantitative","scale":{"type":"log","domain":[7.5,1500]},"axis":null}}},
{"data":{"name":"g"},"transform":[{"filter":"datum.p==15"}],"mark":{"type":"circle","clip":true,"color":"#b8b8b8","size":42}},
{"data":{"name":"d"},"transform":[{"filter":"datum.p==15"}],"mark":{"type":"circle","clip":true,"color":"#a8a8a8","stroke":"#2a2a2a","strokeWidth":1,"size":55}}
]},
{"title":"t=15.70","encoding":{"x":{"field":"w","type":"quantitative","scale":{"type":"log","domain":[1000,25000]},"axis":null},"y":{"field":"f","type":"quantitative","scale":{"type":"log","domain":[7.5,1500]},"axis":null}},"layer":[
{"data":{"name":"c"},"transform":[{"filter":"datum.p==16"}],"mark":{"type":"line","clip":true,"interpolate":"monotone","color":"#1a9a50","strokeWidth":1.1},"encoding":{"x":{"field":"w","type":"quantitative","scale":{"type":"log","domain":[1000,25000]},"axis":{"orient":"bottom","title":null}},"y":{"field":"f","type":"quantitative","scale":{"type":"log","domain":[7.5,1500]},"axis":{"orient":"left","title":null}}}},
{"data":{"name":"d"},"transform":[{"filter":"datum.p==16"}],"mark":{"type":"rule","clip":true,"color":"#4a4a4a"},"encoding":{"x":{"field":"w","type":"quantitative","scale":{"type":"log","domain":[1000,25000]},"axis":{"orient":"top","title":null}},"y":{"field":"lo","type":"quantitative","scale":{"type":"log","domain":[7.5,1500]},"axis":{"orient":"right","title":null}},"y2":{"field":"hi"}}},
{"data":{"name":"d"},"transform":[{"filter":"datum.p==16"},{"fold":["lo","hi"],"as":["k","v"]}],"mark":{"type":"tick","clip":true,"color":"#4a4a4a","orient":"horizontal","size":10,"thickness":1},"encoding":{"y":{"field":"v","type":"quantitative","scale":{"type":"log","domain":[7.5,1500]},"axis":null}}},
{"data":{"name":"g"},"transform":[{"filter":"datum.p==16"}],"mark":{"type":"circle","clip":true,"color":"#b8b8b8","size":42}},
{"data":{"name":"d"},"transform":[{"filter":"datum.p==16"}],"mark":{"type":"circle","clip":true,"color":"#a8a8a8","stroke":"#2a2a2a","strokeWidth":1,"size":55}}
]},
{"title":{"text":"t=17.70","offset":-33},"encoding":{"x":{"field":"w","type":"quantitative","scale":{"type":"log","domain":[1000,25000]},"axis":null},"y":{"field":"f","type":"quantitative","scale":{"type":"log","domain":[5,1000]},"axis":null}},"layer":[
{"data":{"name":"c"},"transform":[{"filter":"datum.p==17"}],"mark":{"type":"line","clip":true,"interpolate":"monotone","color":"#1a9a50","strokeWidth":1.1},"encoding":{"x":{"field":"w","type":"quantitative","scale":{"type":"log","domain":[1000,25000]},"axis":{"orient":"bottom","title":null,"labels":true,"labelExpr":"abs(log(datum.value)/LN10-round(log(datum.value)/LN10))<0.01?'10'+['⁰','¹','²','³','⁴','⁵'][round(log(datum.value)/LN10)]:''"}},"y":{"field":"f","type":"quantitative","scale":{"type":"log","domain":[5,1000]},"axis":{"orient":"left","title":null,"values":[1,10,100,1000,10000],"labels":true,"labelExpr":"'10'+['⁰','¹','²','³','⁴','⁵'][round(log(datum.value)/LN10)]"}}}},
{"data":{"name":"d"},"transform":[{"filter":"datum.p==17"}],"mark":{"type":"rule","clip":true,"color":"#4a4a4a"},"encoding":{"x":{"field":"w","type":"quantitative","scale":{"type":"log","domain":[1000,25000]},"axis":{"orient":"top","title":null}},"y":{"field":"lo","type":"quantitative","scale":{"type":"log","domain":[5,1000]},"axis":{"orient":"right","title":null}},"y2":{"field":"hi"}}},
{"data":{"name":"d"},"transform":[{"filter":"datum.p==17"},{"fold":["lo","hi"],"as":["k","v"]}],"mark":{"type":"tick","clip":true,"color":"#4a4a4a","orient":"horizontal","size":10,"thickness":1},"encoding":{"y":{"field":"v","type":"quantitative","scale":{"type":"log","domain":[5,1000]},"axis":{"orient":"left","title":null}}}},
{"data":{"name":"g"},"transform":[{"filter":"datum.p==17"}],"mark":{"type":"circle","clip":true,"color":"#b8b8b8","size":42}},
{"data":{"name":"d"},"transform":[{"filter":"datum.p==17"}],"mark":{"type":"circle","clip":true,"color":"#a8a8a8","stroke":"#2a2a2a","strokeWidth":1,"size":55}}
]},
{"title":"t=20.70","encoding":{"x":{"field":"w","type":"quantitative","scale":{"type":"log","domain":[1000,25000]},"axis":null},"y":{"field":"f","type":"quantitative","scale":{"type":"log","domain":[5,1000]},"axis":null}},"layer":[
{"data":{"name":"c"},"transform":[{"filter":"datum.p==18"}],"mark":{"type":"line","clip":true,"interpolate":"monotone","color":"#1a9a50","strokeWidth":1.1},"encoding":{"x":{"field":"w","type":"quantitative","scale":{"type":"log","domain":[1000,25000]},"axis":{"orient":"bottom","title":null,"labels":true,"labelExpr":"abs(log(datum.value)/LN10-round(log(datum.value)/LN10))<0.01?'10'+['⁰','¹','²','³','⁴','⁵'][round(log(datum.value)/LN10)]:''"}},"y":{"field":"f","type":"quantitative","scale":{"type":"log","domain":[5,1000]},"axis":{"orient":"left","title":null}}}},
{"data":{"name":"d"},"transform":[{"filter":"datum.p==18"}],"mark":{"type":"rule","clip":true,"color":"#4a4a4a"},"encoding":{"x":{"field":"w","type":"quantitative","scale":{"type":"log","domain":[1000,25000]},"axis":{"orient":"top","title":null}},"y":{"field":"lo","type":"quantitative","scale":{"type":"log","domain":[5,1000]},"axis":{"orient":"right","title":null}},"y2":{"field":"hi"}}},
{"data":{"name":"d"},"transform":[{"filter":"datum.p==18"},{"fold":["lo","hi"],"as":["k","v"]}],"mark":{"type":"tick","clip":true,"color":"#4a4a4a","orient":"horizontal","size":10,"thickness":1},"encoding":{"y":{"field":"v","type":"quantitative","scale":{"type":"log","domain":[5,1000]},"axis":null}}},
{"data":{"name":"g"},"transform":[{"filter":"datum.p==18"}],"mark":{"type":"circle","clip":true,"color":"#b8b8b8","size":42}},
{"data":{"name":"d"},"transform":[{"filter":"datum.p==18"}],"mark":{"type":"circle","clip":true,"color":"#a8a8a8","stroke":"#2a2a2a","strokeWidth":1,"size":55}}
]},
{"title":"t=24.70","encoding":{"x":{"field":"w","type":"quantitative","scale":{"type":"log","domain":[1000,25000]},"axis":null},"y":{"field":"f","type":"quantitative","scale":{"type":"log","domain":[5,1000]},"axis":null}},"layer":[
{"data":{"name":"c"},"transform":[{"filter":"datum.p==19"}],"mark":{"type":"line","clip":true,"interpolate":"monotone","color":"#1a9a50","strokeWidth":1.1},"encoding":{"x":{"field":"w","type":"quantitative","scale":{"type":"log","domain":[1000,25000]},"axis":{"orient":"bottom","title":"Rest wavelength (Å)","titleX":35,"titlePadding":19,"titleFontSize":21,"labels":true,"labelExpr":"abs(log(datum.value)/LN10-round(log(datum.value)/LN10))<0.01?'10'+['⁰','¹','²','³','⁴','⁵'][round(log(datum.value)/LN10)]:''"}},"y":{"field":"f","type":"quantitative","scale":{"type":"log","domain":[5,1000]},"axis":{"orient":"left","title":null}}}},
{"data":{"name":"d"},"transform":[{"filter":"datum.p==19"}],"mark":{"type":"rule","clip":true,"color":"#4a4a4a"},"encoding":{"x":{"field":"w","type":"quantitative","scale":{"type":"log","domain":[1000,25000]},"axis":{"orient":"top","title":null}},"y":{"field":"lo","type":"quantitative","scale":{"type":"log","domain":[5,1000]},"axis":{"orient":"right","title":null}},"y2":{"field":"hi"}}},
{"data":{"name":"d"},"transform":[{"filter":"datum.p==19"},{"fold":["lo","hi"],"as":["k","v"]}],"mark":{"type":"tick","clip":true,"color":"#4a4a4a","orient":"horizontal","size":10,"thickness":1},"encoding":{"y":{"field":"v","type":"quantitative","scale":{"type":"log","domain":[5,1000]},"axis":null}}},
{"data":{"name":"g"},"transform":[{"filter":"datum.p==19"}],"mark":{"type":"circle","clip":true,"color":"#b8b8b8","size":42}},
{"data":{"name":"d"},"transform":[{"filter":"datum.p==19"}],"mark":{"type":"circle","clip":true,"color":"#a8a8a8","stroke":"#2a2a2a","strokeWidth":1,"size":55}}
]},
{"title":"t=37.70","encoding":{"x":{"field":"w","type":"quantitative","scale":{"type":"log","domain":[1000,25000]},"axis":null},"y":{"field":"f","type":"quantitative","scale":{"type":"log","domain":[5,1000]},"axis":null}},"layer":[
{"data":{"name":"c"},"transform":[{"filter":"datum.p==20"}],"mark":{"type":"line","clip":true,"interpolate":"monotone","color":"#1a9a50","strokeWidth":1.1},"encoding":{"x":{"field":"w","type":"quantitative","scale":{"type":"log","domain":[1000,25000]},"axis":{"orient":"bottom","title":null,"labels":true,"labelExpr":"abs(log(datum.value)/LN10-round(log(datum.value)/LN10))<0.01?'10'+['⁰','¹','²','³','⁴','⁵'][round(log(datum.value)/LN10)]:''"}},"y":{"field":"f","type":"quantitative","scale":{"type":"log","domain":[5,1000]},"axis":{"orient":"left","title":null}}}},
{"data":{"name":"d"},"transform":[{"filter":"datum.p==20"}],"mark":{"type":"rule","clip":true,"color":"#4a4a4a"},"encoding":{"x":{"field":"w","type":"quantitative","scale":{"type":"log","domain":[1000,25000]},"axis":{"orient":"top","title":null}},"y":{"field":"lo","type":"quantitative","scale":{"type":"log","domain":[5,1000]},"axis":{"orient":"right","title":null}},"y2":{"field":"hi"}}},
{"data":{"name":"d"},"transform":[{"filter":"datum.p==20"},{"fold":["lo","hi"],"as":["k","v"]}],"mark":{"type":"tick","clip":true,"color":"#4a4a4a","orient":"horizontal","size":10,"thickness":1},"encoding":{"y":{"field":"v","type":"quantitative","scale":{"type":"log","domain":[5,1000]},"axis":null}}},
{"data":{"name":"g"},"transform":[{"filter":"datum.p==20"}],"mark":{"type":"circle","clip":true,"color":"#b8b8b8","size":42}},
{"data":{"name":"d"},"transform":[{"filter":"datum.p==20"}],"mark":{"type":"circle","clip":true,"color":"#a8a8a8","stroke":"#2a2a2a","strokeWidth":1,"size":55}}
]}
],
"config":{
"view":{"continuousWidth":220,"continuousHeight":187,"stroke":"#000","strokeWidth":1},
"circle":{"opacity":1},
"tick":{"opacity":1},
"axis":{"domain":false,"grid":false,"labels":false,"ticks":true,"tickSize":-5,"tickColor":"#444","tickWidth":1,
"tickDash":{"condition":{"test":"abs(log(datum.value)/LN10-round(log(datum.value)/LN10))<0.01","value":[]},"value":[3,10]},
"labelFont":"Liberation Sans","labelFontSize":16,"labelColor":"#000","labelOverlap":false,"labelFlush":false,
"titleFont":"Liberation Sans","titleFontSize":19,"titleFontWeight":"normal","titleColor":"#000"},
"axisX":{"labelPadding":13},
"axisY":{"labelPadding":17},
"title":{"anchor":"start","frame":"group","offset":-25,"dx":137,"font":"Liberation Sans","fontSize":17,"fontWeight":"normal","color":"#000"}
}
}
